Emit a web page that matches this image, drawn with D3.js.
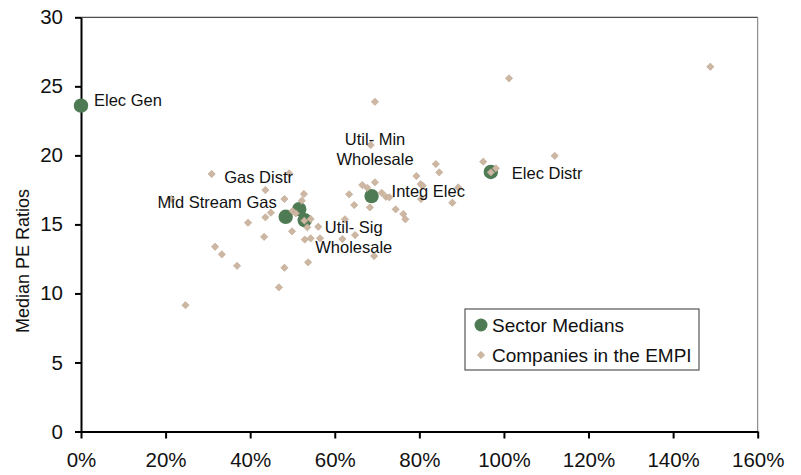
<!DOCTYPE html>
<html>
<head>
<meta charset="utf-8">
<script src="https://cdn.jsdelivr.net/npm/d3@7"></script>
<style>
  body { margin: 0; background: #fff; }
  text { font-family: Arial, "Liberation Sans", sans-serif; fill: #111; }
</style>
</head>
<body>
<div id="chart"></div>
<script>
// DATA
const sectorNames = ["Elec Gen", "Gas Distr", "Mid Stream Gas", "Util- Sig Wholesale", "Integ Elec", "Elec Distr"]
const sectorPct = [0.000, 0.516, 0.484, 0.529, 0.687, 0.969]
const sectorPE = [23.6, 16.1, 15.55, 15.3, 17.05, 18.8]

const companyPct = [0.247, 0.317, 0.333, 0.369, 0.433, 0.499, 0.529, 0.481, 0.468, 0.537,
  0.309, 0.492, 0.436, 0.481, 0.527, 0.522, 0.500, 0.508, 0.449, 0.436,
  0.395, 0.528, 0.543, 0.535, 0.561, 0.543, 0.565, 0.685, 0.839, 0.847,
  0.951, 0.969, 0.981, 0.793, 0.803, 0.808, 0.892, 0.878, 0.804, 0.695,
  0.665, 0.677, 0.711, 0.721, 0.729, 0.634, 0.646, 0.683, 0.744, 0.762,
  0.767, 0.624, 0.648, 0.618, 0.693, 1.012, 1.488, 1.120, 0.695, 0.214]
const companyPE = [9.15, 13.38, 12.83, 12.0, 14.1, 14.5, 13.9, 11.86, 10.44, 12.25,
  18.65, 18.7, 17.49, 16.84, 17.2, 16.72, 15.97, 15.8, 15.85, 15.51,
  15.12, 15.27, 15.39, 14.79, 14.83, 13.99, 13.99, 20.75, 19.37, 18.77,
  19.54, 18.77, 19.06, 18.5, 17.92, 17.8, 17.68, 16.57, 16.84, 18.05,
  17.85, 17.65, 17.29, 17.0, 16.96, 17.18, 16.4, 16.23, 16.09, 15.75,
  15.37, 15.37, 14.23, 13.94, 12.71, 25.58, 26.42, 19.97, 23.88, 16.84]

const xTicks = [0, 0.2, 0.4, 0.6, 0.8, 1.0, 1.2, 1.4, 1.6]
const yTicks = [0, 5, 10, 15, 20, 25, 30]

// label placement (pixel offsets from each sector point)
const labels = [
  { sector: "Elec Gen", lines: ["Elec Gen"], dx: 13, dy: 0, anchor: "start" },
  { sector: "Gas Distr", lines: ["Gas Distr"], dx: -75, dy: -26, anchor: "start" },
  { sector: "Mid Stream Gas", lines: ["Mid Stream Gas"], dx: -9, dy: -9, anchor: "end" },
  { sector: "Util- Sig Wholesale", lines: ["Util- Sig", "Wholesale"], dx: 49, dy: 12.5, anchor: "middle" },
  { sector: "Integ Elec", lines: ["Util- Min", "Wholesale"], dx: 3.5, dy: -51, anchor: "middle" },
  { sector: "Integ Elec", lines: ["Integ Elec"], dx: 20, dy: 1, anchor: "start" },
  { sector: "Elec Distr", lines: ["Elec Distr"], dx: 21, dy: 7, anchor: "start" }
]

const width = 801
const height = 475
const green = "#4e7b53"
const tan = "#cdb7a2"

const sectors = sectorNames.map((n, i) => ({ name: n, pct: sectorPct[i], pe: sectorPE[i] }))
const companies = companyPct.map((p, i) => ({ pct: p, pe: companyPE[i] }))

const xScale = d3.scaleLinear().domain([0, 1.6]).range([81, 757.7])
const yScale = d3.scaleLinear().domain([0, 30]).range([431.5, 17.3])

const svg = d3.select("#chart")
  .append("svg")
  .attr("width", width)
  .attr("height", height)

// top + right frame
svg.append("line")
  .attr("x1", xScale(0)).attr("x2", xScale(1.6))
  .attr("y1", yScale(30)).attr("y2", yScale(30))
  .attr("stroke", "#222").attr("stroke-width", 1)
svg.append("line")
  .attr("x1", xScale(1.6)).attr("x2", xScale(1.6))
  .attr("y1", yScale(30)).attr("y2", yScale(0))
  .attr("stroke", "#777").attr("stroke-width", 1)

// AXES
const xAxis = svg.append("g")
  .attr("transform", `translate(0, ${yScale(0)})`)
  .call(d3.axisBottom(xScale)
    .tickValues(xTicks)
    .tickFormat(d3.format(".0%"))
    .tickSize(7)
    .tickPadding(14)
    .tickSizeOuter(0))
xAxis.selectAll("text").attr("font-size", 20.5).attr("font-family", "Arial, 'Liberation Sans', sans-serif").attr("fill", "#111")

const yAxis = svg.append("g")
  .attr("transform", `translate(${xScale(0)}, 0)`)
  .call(d3.axisLeft(yScale)
    .tickValues(yTicks)
    .tickSize(6)
    .tickPadding(12)
    .tickSizeOuter(0))
yAxis.selectAll("text").attr("font-size", 20.5).attr("font-family", "Arial, 'Liberation Sans', sans-serif").attr("fill", "#111")

svg.selectAll(".domain").attr("stroke", "#000").attr("stroke-width", 2)
svg.selectAll(".tick line").attr("stroke", "#000").attr("stroke-width", 2)

svg.append("text")
  .text("Median PE Ratios")
  .attr("font-size", 18)
  .attr("text-anchor", "middle")
  .attr("transform", "translate(29, 261) rotate(-90)")

// SECTOR MEDIANS
svg.selectAll("circle.sector")
  .data(sectors)
  .join("circle")
  .attr("class", "sector")
  .attr("cx", d => xScale(d.pct))
  .attr("cy", d => yScale(d.pe))
  .attr("r", 7.2)
  .attr("fill", green)

// COMPANIES
const diamond = d3.symbol().type(d3.symbolDiamond2).size(34)
svg.selectAll("path.company")
  .data(companies)
  .join("path")
  .attr("class", "company")
  .attr("d", diamond)
  .attr("transform", d => `translate(${xScale(d.pct)}, ${yScale(d.pe)})`)
  .attr("fill", tan)
  .attr("stroke", "#bda590")
  .attr("stroke-width", 0.6)

// LABELS
labels.forEach(l => {
  const s = sectors.find(d => d.name === l.sector)
  const t = svg.append("text")
    .attr("font-size", 16.5)
    .attr("text-anchor", l.anchor)
  l.lines.forEach((line, i) => {
    t.append("tspan")
      .attr("x", xScale(s.pct) + l.dx)
      .attr("y", yScale(s.pe) + l.dy + i * 20)
      .text(line)
  })
})

// LEGEND
const legend = svg.append("g").attr("transform", "translate(465, 309)")
legend.append("rect")
  .attr("width", 234).attr("height", 61)
  .attr("fill", "#fff").attr("stroke", "#555").attr("stroke-width", 1.2)
legend.append("circle").attr("cx", 16).attr("cy", 16).attr("r", 6.5).attr("fill", green)
legend.append("path").attr("d", diamond)
  .attr("transform", "translate(16, 46)")
  .attr("fill", tan).attr("stroke", "#bda590").attr("stroke-width", 0.6)
legend.append("text").text("Sector Medians").attr("x", 27).attr("y", 23).attr("font-size", 19)
legend.append("text").text("Companies in the EMPI").attr("x", 27).attr("y", 53).attr("font-size", 19)
</script>
</body>
</html>
